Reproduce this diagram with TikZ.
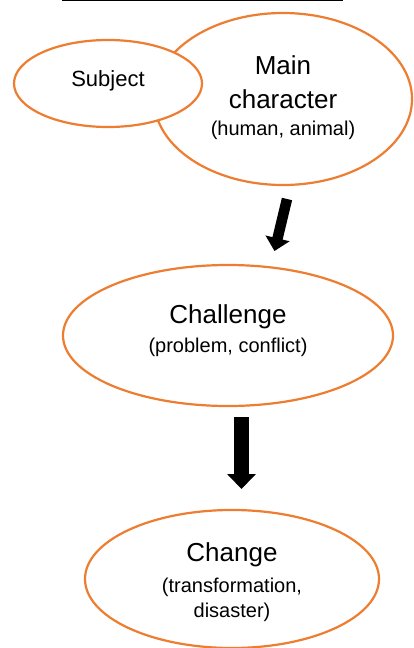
\documentclass[tikz,border=0pt]{standalone}
\usepackage{fontspec}
\setmainfont{Liberation Sans}
\usepackage[svgnames, dvipsnames]{xcolor}
\usetikzlibrary{calc, shapes.geometric, arrows.meta}
\definecolor{bubbleorange}{HTML}{ED7D31}
\tikzset{>=latex,
  bubble/.style={ellipse, draw=bubbleorange, line width=2.2pt, fill=white, inner sep=0pt},
  bigtxt/.style={anchor=base, inner sep=0pt, font=\fontsize{26}{30}\selectfont},
  smalltxt/.style={anchor=base, inner sep=0pt, font=\fontsize{20}{24}\selectfont}
}

\begin{document}
\begin{tikzpicture}[x=1pt, y=-1pt]
\useasboundingbox (0,0) rectangle (413,648);
% cut title underline
\coordinate (ulleft) at (62,0.6);
\coordinate (ulright) at (343,0.6);
\draw[line width=1.4pt] (ulleft) -- (ulright);
% bubbles
\node[bubble, minimum width=258pt, minimum height=172pt] (mainchar) at (283,99) {};
\node[bubble, minimum width=188pt, minimum height=87pt] (subject) at (108,83.5) {};
\node[bubble, minimum width=330pt, minimum height=141pt] (challenge) at (228,335.5) {};
\node[bubble, minimum width=294pt, minimum height=138pt] (change) at (232,579) {};
% texts
\node[smalltxt, font=\fontsize{22}{26}\selectfont] (subjecttxt) at (108,86) {Subject};
\node[bigtxt] (maintxt) at (283,74) {Main};
\node[bigtxt] (chartxt) at (283,108) {character};
\node[smalltxt] (humantxt) at (283,135) {(human, animal)};
\node[bigtxt] (challtxt) at (228,323) {Challenge};
\node[smalltxt] (problemtxt) at (228,352) {(problem, conflict)};
\node[bigtxt] (changetxt) at (232,561) {Change};
\node[smalltxt] (transftxt) at (232,592) {(transformation,};
\node[smalltxt] (disastertxt) at (232,617) {disaster)};
% arrows
\coordinate (arrowA) at (287,199);
\coordinate (arrowB) at (274.5,251);
\coordinate (arrowC) at (241.5,417);
\coordinate (arrowD) at (241.5,489);
\draw[line width=10.5pt, -{Triangle[length=13pt, width=24pt]}] (arrowA) -- (arrowB);
\draw[line width=15pt, -{Triangle[length=15pt, width=28pt]}] (arrowC) -- (arrowD);
\end{tikzpicture}
\end{document}
